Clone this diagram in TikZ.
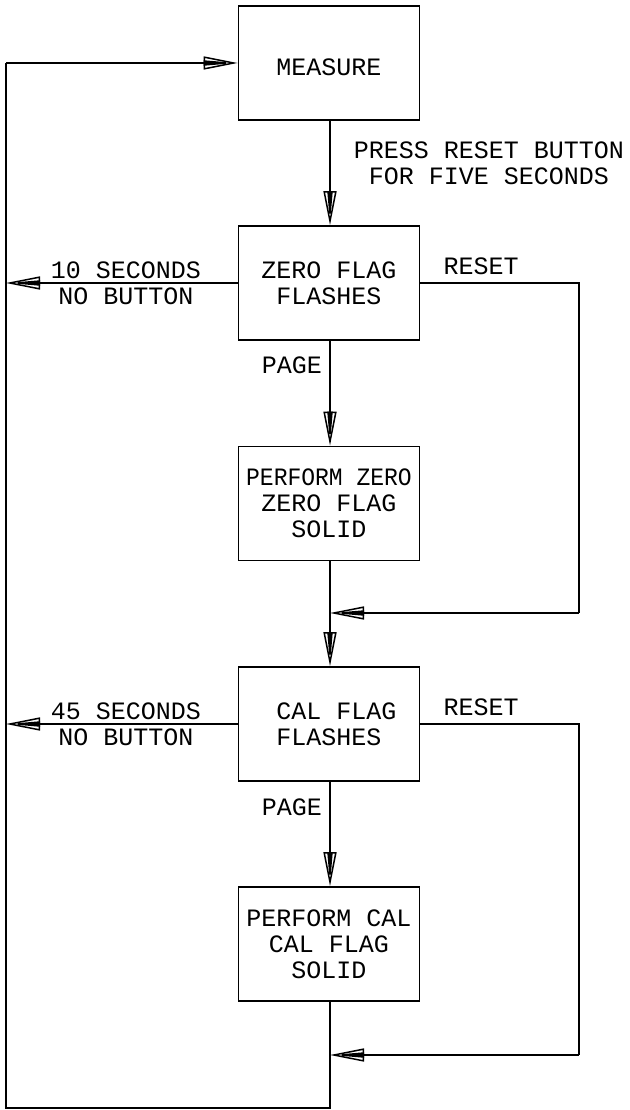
\documentclass[tikz,border=0pt]{standalone}
\usepackage{fontspec}
\newfontfamily\cadfont{Liberation Mono}
\usetikzlibrary{arrows.meta}
\tikzset{
  box/.style={draw, line width=1.7pt, minimum width=181pt, minimum height=114pt, inner sep=0pt, align=center, font=\cadtext},
  lbl/.style={inner sep=0pt, align=center, font=\cadtext},
  wire/.style={line width=1.7pt},
  arr/.style={line width=1.7pt, -{Triangle[length=34pt, width=5pt, sep=-34pt] Triangle[open, length=34pt, width=13pt, line width=1.5pt]}},
}
\newcommand{\cadtext}{\cadfont\fontsize{25}{26}\selectfont}
\begin{document}
\begin{tikzpicture}[x=1pt,y=-1pt]
\useasboundingbox (0,0) rectangle (629,1110);
% boxes
\node[box] (measure) at (329,63) {};
\node[lbl] (measuretxt) at (329,67) {MEASURE};
\node[box] (zflash) at (329,283) {ZERO FLAG\\FLASHES};
\node[box] (pzero) at (329,503.5) {\scalebox{0.92}[1]{PERFORM ZERO}\\ZERO FLAG\\SOLID};
\node[box] (cflash) at (329,724) {~CAL FLAG\\FLASHES};
\node[box] (pcal) at (329,944) {PERFORM CAL\\CAL FLAG\\SOLID};
% labels
\node[lbl] (press) at (489,163) {PRESS RESET BUTTON\\FOR FIVE SECONDS};
\node[lbl] (reset1) at (481,266) {RESET};
\node[lbl] (reset2) at (481,707) {RESET};
\node[lbl] (page1) at (292,365) {PAGE};
\node[lbl] (page2) at (292,807) {PAGE};
\node[lbl] (ten) at (126,283) {10 SECONDS\\NO BUTTON};
\node[lbl] (fortyfive) at (126,724) {45 SECONDS\\NO BUTTON};
% coordinates
\coordinate (tl) at (6,63);
\coordinate (l1) at (6,283);
\coordinate (l2) at (6,724);
\coordinate (bl) at (6,1108);
\coordinate (br) at (330,1108);
\coordinate (r1a) at (579,283);
\coordinate (r1b) at (579,613);
\coordinate (j1) at (330,613);
\coordinate (r2a) at (579,724);
\coordinate (r2b) at (579,1055);
\coordinate (j2) at (330,1055);
% connectors
\draw[arr] (measure.south -| 330,0) -- (zflash.north -| 330,0);
\draw[arr] (zflash.south -| 330,0) -- (pzero.north -| 330,0);
\draw[arr] (pzero.south -| 330,0) -- (cflash.north -| 330,0);
\draw[arr] (cflash.south -| 330,0) -- (pcal.north -| 330,0);
\draw[wire] (pcal.south -| 330,0) -- (br) -- (bl) -- (tl);
\draw[arr] (tl) -- (measure.west);
\draw[arr] (zflash.west) -- (l1);
\draw[arr] (cflash.west) -- (l2);
\draw[wire] (zflash.east) -- (r1a) -- (r1b);
\draw[arr] (r1b) -- (j1);
\draw[wire] (cflash.east) -- (r2a) -- (r2b);
\draw[arr] (r2b) -- (j2);
\end{tikzpicture}
\end{document}
